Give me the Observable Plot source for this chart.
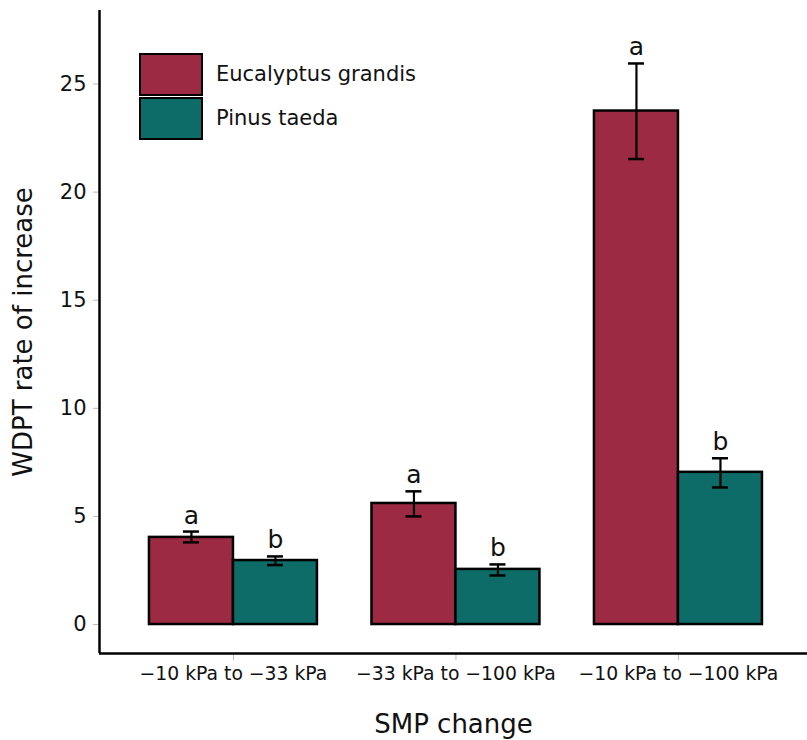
<!DOCTYPE html>
<html>
<head>
<meta charset="utf-8">
<script src="https://cdn.jsdelivr.net/npm/d3@7"></script>
<script src="https://cdn.jsdelivr.net/npm/@observablehq/plot@0.6"></script>
<style>
  body { margin: 0; background: #fff; font-family: "DejaVu Sans", sans-serif; }
  #wrap { position: relative; width: 807px; height: 740px; }
  .legend { position: absolute; left: 139px; top: 52px; }
  .item { display: flex; align-items: center; height: 44px; margin-bottom: 0px; }
  .sw { width: 60px; height: 39px; border: 2.5px solid #000; box-sizing: content-box; margin-right: 13px; }
  .lab { font-size: 21px; color: #111; }
</style>
</head>
<body>
<div id="wrap"></div>
<script>
const categories = ["\u221210 kPa to \u221233 kPa", "\u221233 kPa to \u2212100 kPa", "\u221210 kPa to \u2212100 kPa"];
const species = ["Eucalyptus grandis", "Pinus taeda"];
const colors = ["#9b2a42", "#0d6b68"];
const euMean = [4.03, 5.60, 23.75];
const euLow = [3.80, 5.00, 21.53];
const euHigh = [4.30, 6.16, 25.95];
const piMean = [2.96, 2.55, 7.04];
const piLow = [2.75, 2.27, 6.34];
const piHigh = [3.15, 2.78, 7.69];
const euLetters = ["a", "a", "a"];
const piLetters = ["b", "b", "b"];
const yTicks = [0, 5, 10, 15, 20, 25];

const W = 0.3775; // bar width in category units
const rows = [];
categories.forEach((c, i) => {
  rows.push({i, sp: species[0], x1: i - W, x2: i, xm: i - W / 2, mean: euMean[i], lo: euLow[i], hi: euHigh[i], letter: euLetters[i]});
  rows.push({i, sp: species[1], x1: i, x2: i + W, xm: i + W / 2, mean: piMean[i], lo: piLow[i], hi: piHigh[i], letter: piLetters[i]});
});
const capHalf = 0.036;

const chart = Plot.plot({
  width: 807,
  height: 740,
  marginLeft: 99,
  marginRight: 0,
  marginTop: 10,
  marginBottom: 87,
  style: { fontFamily: "DejaVu Sans, sans-serif", background: "#fff", color: "#111" },
  x: { type: "linear", domain: [-0.602, 2.580] },
  y: { domain: [-1.34, 28.4] },
  color: { domain: species, range: colors },
  marks: [
    Plot.axisY({ ticks: yTicks, tickSize: 6, tickPadding: 7, fontSize: 21, stroke: "#bbb", label: "WDPT rate of increase", labelAnchor: "center", labelOffset: 86, labelArrow: "none", tickFormat: d => d }),
    Plot.axisX({ ticks: [0, 1, 2], tickSize: 7, tickPadding: 6, fontSize: 18.8, stroke: "#bbb", tickFormat: i => categories[i], label: "SMP change", labelAnchor: "center", labelOffset: 79, labelArrow: "none" }),
    Plot.rectY(rows, { x1: "x1", x2: "x2", y1: 0, y2: "mean", fill: "sp", stroke: "#000", strokeWidth: 2.5 }),
    Plot.ruleX(rows, { x: "xm", y1: "lo", y2: "hi", stroke: "#000", strokeWidth: 2.2 }),
    Plot.ruleY(rows, { y: "hi", x1: d => d.xm - capHalf, x2: d => d.xm + capHalf, stroke: "#000", strokeWidth: 2.5 }),
    Plot.ruleY(rows, { y: "lo", x1: d => d.xm - capHalf, x2: d => d.xm + capHalf, stroke: "#000", strokeWidth: 2.5 }),
    Plot.text(rows, { x: "xm", y: "hi", text: "letter", dy: -8, lineAnchor: "bottom", fontSize: 25, fill: "#111" }),
    Plot.ruleX([-0.602], { stroke: "#000", strokeWidth: 2.5 }),
    Plot.ruleY([-1.34], { stroke: "#000", strokeWidth: 2.5 })
  ]
});
chart.querySelectorAll("g[aria-label='y-axis label'], g[aria-label='x-axis label']").forEach(g => g.setAttribute("font-size", "26"));
document.getElementById("wrap").appendChild(chart);

const legend = document.createElement("div");
legend.className = "legend";
species.forEach((s, k) => {
  const it = document.createElement("div");
  it.className = "item";
  const sw = document.createElement("div");
  sw.className = "sw";
  sw.style.background = colors[k];
  const lb = document.createElement("span");
  lb.className = "lab";
  lb.textContent = s;
  it.appendChild(sw); it.appendChild(lb);
  legend.appendChild(it);
});
document.getElementById("wrap").appendChild(legend);
</script>
</body>
</html>
